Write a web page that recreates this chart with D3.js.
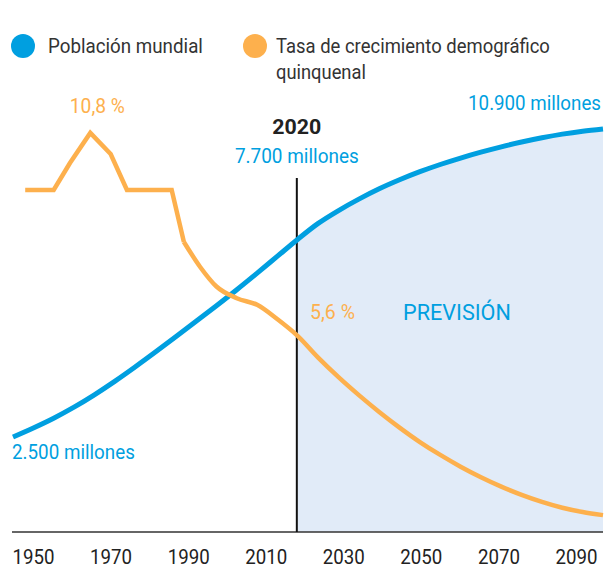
<!DOCTYPE html>
<html>
<head>
<meta charset="utf-8">
<script src="https://cdn.jsdelivr.net/npm/d3@7"></script>
<style>
  html, body { margin: 0; padding: 0; background: #fff; }
  svg { display: block; font-family: Roboto, "Noto Sans", sans-serif; }
</style>
</head>
<body>
<svg id="chart" width="605" height="568"></svg>
<script>
// ---- Data ----
const popYears = [1950, 1955, 1960, 1965, 1970, 1975, 1980, 1985, 1990, 1995,
                  2000, 2005, 2010, 2015, 2020, 2025, 2030, 2035, 2040, 2045,
                  2050, 2055, 2060, 2065, 2070, 2075, 2080, 2085, 2090, 2095];
const population = [2500, 2745, 3010, 3310, 3645, 4010, 4400, 4805, 5220, 5640,
                    6065, 6500, 6950, 7410, 7870, 8300, 8650, 8960, 9240, 9485,
                    9705, 9900, 10075, 10235, 10380, 10510, 10625, 10725, 10805, 10865];

const rateYears = [1953, 1960, 1964, 1969, 1974, 1978, 1989, 1992, 1996, 2000,
                   2005, 2010, 2015, 2020, 2025, 2030, 2035, 2040, 2045, 2050,
                   2055, 2060, 2065, 2070, 2075, 2080, 2085, 2090, 2095];
const growthRate = [9.34, 9.34, 10.03, 10.8, 10.26, 9.34, 9.34, 8.01, 7.37, 6.87,
                    6.57, 6.40, 6.03, 5.60, 5.05, 4.55, 4.09, 3.66, 3.26, 2.89,
                    2.56, 2.26, 1.99, 1.75, 1.54, 1.36, 1.21, 1.10, 1.02];

const tickYears = [1950, 1970, 1990, 2010, 2030, 2050, 2070, 2090];
const forecastStart = 2020;
const legendLabels = ["Población mundial", "Tasa de crecimiento demográfico", "quinquenal"];

// ---- Styles ----
const BLUE = "#009fe0", ORANGE = "#fdb04d", SHADE = "#e1ebf8", DARK = "#222";

const svg = d3.select("#chart");

const x = d3.scaleLinear().domain([1950, 2095]).range([13, 603]);
const xTicks = d3.scaleLinear().domain([1950, 2090]).range([33, 576]);
const yPop = d3.scaleLinear().domain([0, 11000]).range([529, 124]);
const yRate = d3.scaleLinear().domain([0, 12]).range([555, 86]);
const baseY = 532;

const pop = popYears.map((yr, i) => ({ year: yr, v: population[i] }));
const rate = rateYears.map((yr, i) => ({ year: yr, v: growthRate[i] }));

// forecast shaded area
svg.append("path")
  .datum(pop.filter(d => d.year >= forecastStart))
  .attr("fill", SHADE)
  .attr("d", d3.area().x(d => x(d.year)).y0(baseY).y1(d => yPop(d.v)).curve(d3.curveMonotoneX));

// axis
const axis = svg.append("g").attr("transform", `translate(0,${baseY})`)
  .call(d3.axisBottom(xTicks).tickValues(tickYears).tickFormat(d3.format("d")).tickSize(0).tickPadding(17));
axis.select(".domain").remove();
axis.selectAll("text")
  .attr("font-size", 21).attr("fill", DARK).attr("font-family", "Roboto")
  .attr("textLength", 42).attr("lengthAdjust", "spacingAndGlyphs");

svg.append("line")
  .attr("x1", x(1950) - 1).attr("x2", x(2095)).attr("y1", baseY).attr("y2", baseY)
  .attr("stroke", "#333").attr("stroke-width", 1.6);

// 2020 vertical line
svg.append("line")
  .attr("x1", x(forecastStart) - 1).attr("x2", x(forecastStart) - 1)
  .attr("y1", 178).attr("y2", baseY)
  .attr("stroke", "#111").attr("stroke-width", 2);

// population line
svg.append("path").datum(pop)
  .attr("fill", "none").attr("stroke", BLUE).attr("stroke-width", 5)
  .attr("d", d3.line().x(d => x(d.year)).y(d => yPop(d.v)).curve(d3.curveMonotoneX));

// growth rate line: straight historical segments, smooth afterwards
const split = rateYears.indexOf(1992);
const rateLine = d3.line().x(d => x(d.year)).y(d => yRate(d.v));
svg.append("path").datum(rate.slice(0, split + 1))
  .attr("fill", "none").attr("stroke", ORANGE).attr("stroke-width", 4.5)
  .attr("stroke-linejoin", "miter")
  .attr("d", rateLine.curve(d3.curveLinear));
svg.append("path").datum(rate.slice(split))
  .attr("fill", "none").attr("stroke", ORANGE).attr("stroke-width", 4.5)
  .attr("d", rateLine.curve(d3.curveMonotoneX));

// text helper: condensed look via horizontal scaling to the reference width
function label(t, xp, yp, opts) {
  const o = Object.assign({ size: 21, color: BLUE, anchor: "start", weight: 400, len: null }, opts || {});
  const el = svg.append("text").text(t)
    .attr("x", 0).attr("y", 0)
    .attr("font-size", o.size).attr("fill", o.color)
    .attr("text-anchor", o.anchor).attr("font-weight", o.weight);
  let sx = 1;
  if (o.len) {
    const w = el.node().getComputedTextLength();
    if (w > 0) sx = o.len / w;
  }
  el.attr("transform", `translate(${xp},${yp}) scale(${sx},1)`);
  return el;
}

// legend
svg.append("circle").attr("cx", 23).attr("cy", 46).attr("r", 12).attr("fill", BLUE);
svg.append("circle").attr("cx", 255).attr("cy", 46).attr("r", 12).attr("fill", ORANGE);
label(legendLabels[0], 48, 53, { color: "#333", len: 155 });
label(legendLabels[1], 276, 53, { color: "#333", len: 274 });
label(legendLabels[2], 276, 79, { color: "#333", len: 90 });

// annotations
const peak = rate.reduce((a, b) => (b.v > a.v ? b : a));
label(d3.format(".1f")(peak.v).replace(".", ",") + " %", x(peak.year) + 7, 113, { color: ORANGE, anchor: "middle", len: 55 });
label(String(forecastStart), x(forecastStart) - 1, 134, { color: DARK, anchor: "middle", weight: 700, len: 49 });
label("7.700 millones", x(forecastStart) - 1, 163, { anchor: "middle", len: 124 });
label("10.900 millones", 601, 110, { anchor: "end", len: 133 });
label("5,6 %", 310, 319, { color: ORANGE, len: 45 });
label("PREVISIÓN", 403, 320, { size: 22, len: 108 });
label("2.500 millones", 12, 459, { len: 123 });
</script>
</body>
</html>
